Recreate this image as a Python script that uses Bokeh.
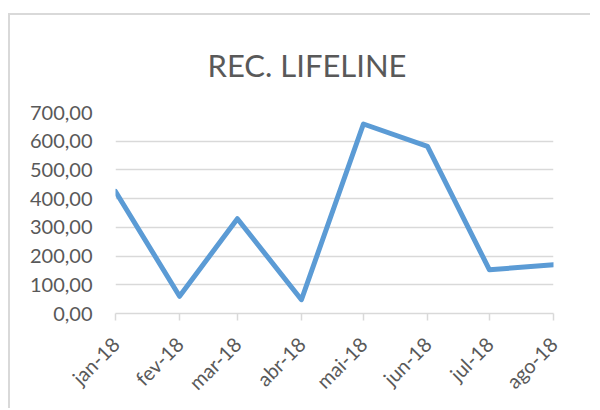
from datetime import datetime
from bokeh.plotting import figure
from bokeh.models import FixedTicker
from bokeh.embed import file_html
from bokeh.resources import INLINE
from math import pi

# ---- data ----
months = [datetime(2018, m, 1) for m in range(1, 9)]
month_labels = ["jan-18", "fev-18", "mar-18", "abr-18", "mai-18", "jun-18", "jul-18", "ago-18"]
rec_lifeline = [425, 60, 330, 48, 660, 582, 152, 170]
y_ticks = [0, 100, 200, 300, 400, 500, 600, 700]
y_tick_labels = ["0,00", "100,00", "200,00", "300,00", "400,00", "500,00", "600,00", "700,00"]
title_text = "REC. LIFELINE"

EPOCH = datetime(1970, 1, 1)
def ms(d):
    return int((d - EPOCH).total_seconds() * 1000)

month_ms = [ms(d) for d in months]

FONT = "Lato"
TXT = "#595959"
GRID = "#d9d9d9"

p = figure(width=582, height=395, x_axis_type="datetime",
           x_range=(month_ms[0], month_ms[-1]), y_range=(0, 700),
           output_backend="svg", toolbar_location=None,
           min_border_left=105, min_border_right=39,
           min_border_top=97, min_border_bottom=97)
p.styles = {"border-top": "2px solid #d9d9d9", "border-left": "2px solid #d9d9d9",
            "margin-top": "13px", "margin-left": "8px"}
p.outline_line_color = None
p.background_fill_color = "white"
p.border_fill_color = "white"

p.line(months, rec_lifeline, line_color="#5b9bd5", line_width=5,
       line_join="round", line_cap="round")

# title
p.title.text = title_text
p.title.align = "left"
p.title.offset = 92
p.title.standoff = 57
p.title.text_font = FONT
p.title.text_font_size = "31px"
p.title.text_font_style = "normal"
p.title.text_color = TXT

# x axis
p.xaxis.ticker = FixedTicker(ticks=month_ms)
p.xaxis.major_label_overrides = {t: l for t, l in zip(month_ms, month_labels)}
p.xaxis.major_label_orientation = pi / 4
p.xaxis.axis_line_color = GRID
p.xaxis.axis_line_width = 1.5
p.xaxis.major_tick_line_color = GRID
p.xaxis.major_tick_line_width = 1.5
p.xaxis.major_tick_in = 0
p.xaxis.major_tick_out = 7
p.xaxis.minor_tick_line_color = None
p.xaxis.major_label_standoff = 20
p.xaxis.major_label_text_font = FONT
p.xaxis.major_label_text_font_size = "20px"
p.xaxis.major_label_text_color = TXT

# y axis
p.yaxis.ticker = FixedTicker(ticks=y_ticks)
p.yaxis.major_label_overrides = {t: l for t, l in zip(y_ticks, y_tick_labels)}
p.yaxis.axis_line_color = None
p.yaxis.major_tick_line_color = None
p.yaxis.minor_tick_line_color = None
p.yaxis.major_tick_in = 0
p.yaxis.major_tick_out = 0
p.yaxis.major_label_standoff = 23
p.yaxis.major_label_text_font = FONT
p.yaxis.major_label_text_font_size = "20px"
p.yaxis.major_label_text_color = TXT

p.xgrid.grid_line_color = None
p.ygrid.grid_line_color = GRID
p.ygrid.grid_line_width = 1.5

open("out.html", "w").write(file_html(p, INLINE))
